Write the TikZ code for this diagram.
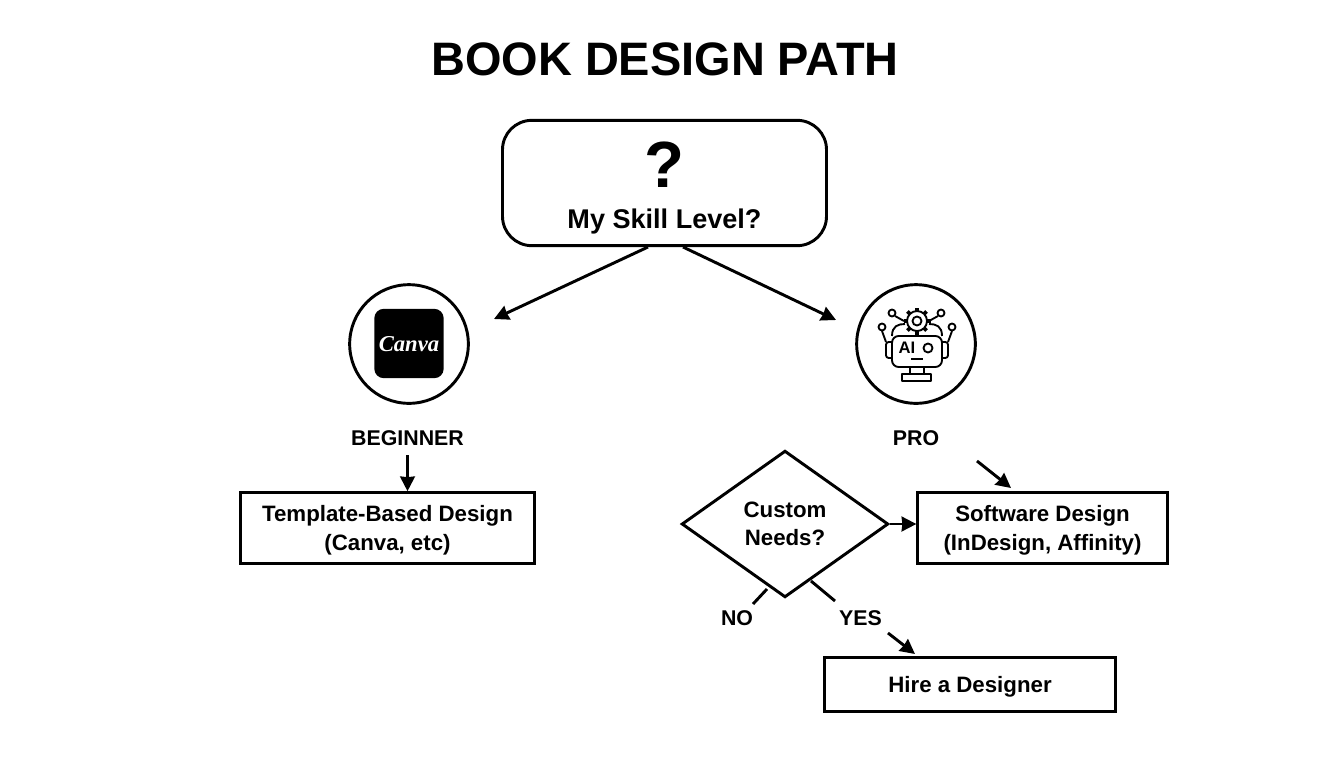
\documentclass[tikz,border=0pt]{standalone}
\usepackage{fontspec}
\setmainfont{Liberation Sans}
\newfontfamily\canvafont{Liberation Serif}
\usetikzlibrary{arrows.meta,positioning,shapes.geometric}
\tikzset{
    flow/.style={x=0.75pt,y=-0.75pt,line width=2.2pt,>={Stealth[length=11pt,width=11pt,inset=0.5pt]},
                     font=\bfseries\fontsize{16.7}{21.3}\selectfont},
    startbox/.style={draw,rounded corners=22pt,minimum width=243pt,minimum height=94pt},
    stepbox/.style={draw,align=center,text depth=0pt,minimum height=53pt},
    choice/.style={draw,diamond,align=center,text depth=0pt,inner sep=0pt,minimum width=155pt,minimum height=110pt},
    badge/.style={circle,draw,minimum size=89pt},
    tag/.style={font=\bfseries\fontsize{16}{18}\selectfont},
    icon/.style={line width=1.4pt,line join=round},
}
\begin{document}
\begin{tikzpicture}[flow]
    \useasboundingbox (0,0) rectangle (1344,768);

    \node (title) at (665,59) {\fontsize{35.2}{40}\selectfont BOOK DESIGN PATH};

    \node[startbox] (level) at (664.5,183) {};
    \node (mark) at (664,165) {\fontsize{49}{60}\selectfont ?};
    \node (leveltext) at (664.5,221) {\fontsize{20.3}{24}\selectfont My Skill Level?};

    \node[badge] (canva) at (409,344) {};
    \node[badge] (robot) at (916,344) {};
    \node[tag] (beginner) at (407.5,438) {BEGINNER};
    \node[tag] (pro) at (916,438) {PRO};

    \node[stepbox,minimum width=220pt] (template) at (387.5,528) {Template-Based Design\\(Canva, etc)};
    \node[stepbox,minimum width=187pt] (software) at (1042.5,528) {Software Design\\(InDesign, Affinity)};
    \node[choice] (custom) at (785,524) {Custom\\Needs?};
    \node[stepbox,minimum width=218pt,minimum height=41pt] (hire) at (970,684.5) {Hire a Designer};
    \node[tag] (no) at (737,618) {NO};
    \node[tag] (yes) at (860.5,618) {YES};

    % free ends of the connectors
    \coordinate (levelL) at (648,247);
    \coordinate (levelR) at (683,247);
    \coordinate (canvaIn) at (494,319);
    \coordinate (robotIn) at (836,320);
    \coordinate (proOut) at (977,461);
    \coordinate (softIn) at (1011,488);
    \coordinate (noStart) at (767,589);
    \coordinate (noEnd) at (753,604);
    \coordinate (yesStart) at (811,581);
    \coordinate (yesEnd) at (835,601);
    \coordinate (yesOut) at (888,633);
    \coordinate (hireIn) at (915,654);

    \draw[->] (levelL) -- (canvaIn);
    \draw[->] (levelR) -- (robotIn);
    \draw[->,shorten <=3pt] (beginner.south) -- (beginner.south |- template.north);
    \draw[->] (proOut) -- (softIn);
    \draw[->] (custom.east) -- (custom.east -| software.west);
    \draw (noStart) -- (noEnd);
    \draw (yesStart) -- (yesEnd);
    \draw[->] (yesOut) -- (hireIn);

    % canva logo
    \node[fill=black,rounded corners=7pt,minimum size=52pt,inner sep=0pt] (logo) at (409,343.5) {};
    \node[text=white] (logotext) at (409,344) {\canvafont\itshape\bfseries\fontsize{17}{20}\selectfont Canva};

    % robot icon
    \begin{scope}[icon]
        \draw[rounded corners=5pt] (892,336) rectangle (942,367);
        \draw (892,336) .. controls (892,326) and (898,324) .. (905,324);
        \draw (942,336) .. controls (942,326) and (936,324) .. (929,324);
        \draw[rounded corners=2pt] (892,342) -- (886,342) -- (886,358) -- (892,358);
        \draw[rounded corners=2pt] (942,342) -- (948,342) -- (948,358) -- (942,358);
        \draw (910,367) -- (910,374) (924,367) -- (924,374);
        \draw (902,374) rectangle (931,381);
        \draw (882,327) circle (3.5);
        \draw (952,327) circle (3.5);
        \draw (892,313) circle (3.5);
        \draw (941,313) circle (3.5);
        \draw (882,331) -- (886,342) (952,331) -- (948,342);
        \draw (895,316) -- (904,321) (938,316) -- (929,321);
        \draw[fill=white] (917,321) circle (10);
        \draw (917,321) circle (4.5);
        \foreach \a in {0,45,...,315}
            \draw[line width=2.8pt] (917,321) ++(\a:10) -- ++(\a:3.5);
        \draw (911,359) -- (923,359);
        \node[font=\bfseries\fontsize{12.5}{14}\selectfont] (aitext) at (907,348) {AI};
        \draw (928,348) circle (4.5);
    \end{scope}
\end{tikzpicture}
\end{document}
